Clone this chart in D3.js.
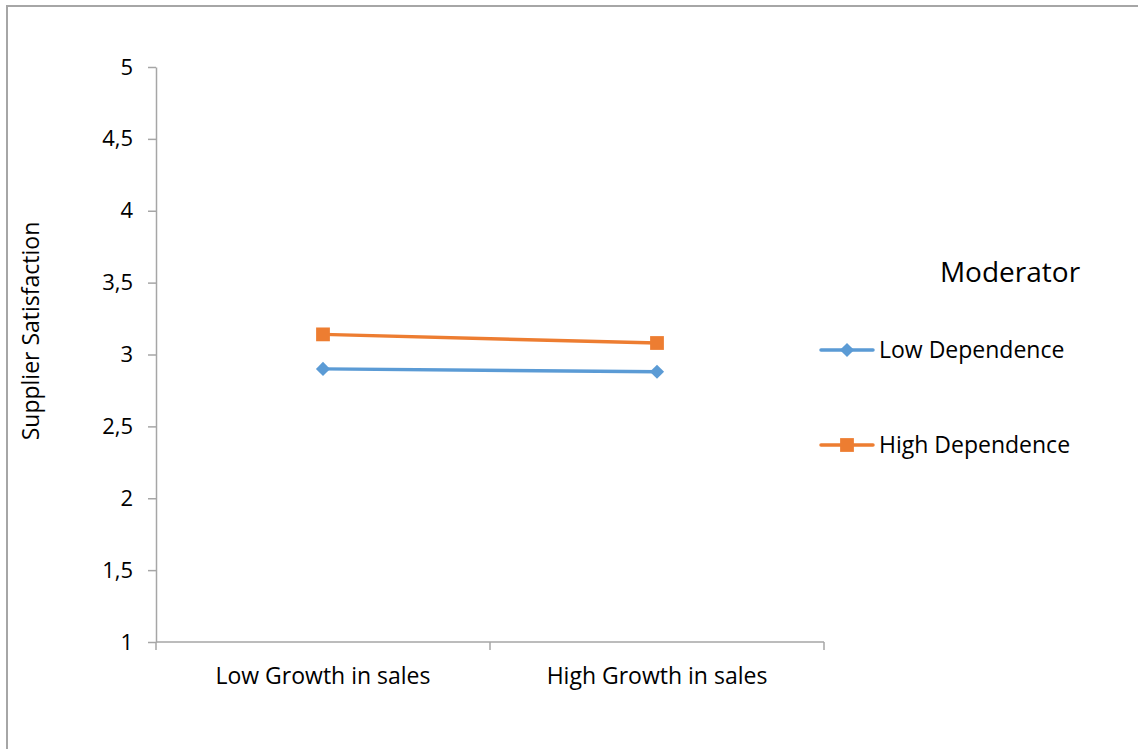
<!DOCTYPE html>
<html>
<head>
<meta charset="utf-8">
<script src="https://cdn.jsdelivr.net/npm/d3@7"></script>
<style>
  html, body { margin: 0; padding: 0; background: #fff; }
  svg { display: block; font-family: "Open Sans", "Noto Sans", sans-serif; }
</style>
</head>
<body>
<svg id="chart" width="1138" height="749"></svg>
<script>
// Interaction plot: supplier satisfaction by growth in sales, split by dependence
const categories = ["Low Growth in sales", "High Growth in sales"];
const lowDependence = [2.90, 2.88];
const highDependence = [3.14, 3.08];
const seriesNames = ["Low Dependence", "High Dependence"];
const seriesColors = ["#5b9bd5", "#ed7d31"];
const yTicks = [1, 1.5, 2, 2.5, 3, 3.5, 4, 4.5, 5];
const yTitle = "Supplier Satisfaction";
const legendTitle = "Moderator";

const svg = d3.select("#chart");
const W = 1138, H = 749;
const axisColor = "#a6a6a6";

// chart frame (runs off the right and bottom edges)
svg.append("rect")
  .attr("x", 7).attr("y", 6)
  .attr("width", W + 10).attr("height", H + 10)
  .attr("fill", "#fff").attr("stroke", "#a6a6a6").attr("stroke-width", 2);

const plot = { left: 156, right: 824, top: 67, bottom: 642 };

const x = d3.scaleBand().domain(categories).range([plot.left, plot.right]).padding(0);
const y = d3.scaleLinear().domain([1, 5]).range([plot.bottom, plot.top]);

// y axis
const yAxis = svg.append("g")
  .attr("transform", `translate(${plot.left},0)`)
  .call(d3.axisLeft(y).tickValues(yTicks).tickSize(8).tickSizeOuter(0).tickPadding(15)
    .tickFormat(d => String(d).replace(".", ",")));
yAxis.select(".domain").attr("stroke", axisColor).attr("stroke-width", 1.5);
yAxis.selectAll(".tick line").attr("stroke", axisColor).attr("stroke-width", 1.5);
yAxis.selectAll(".tick text").attr("fill", "#000").attr("font-size", 22)
  .attr("font-family", "Open Sans");

// x axis: line with ticks at category boundaries
const xg = svg.append("g");
xg.append("line")
  .attr("x1", plot.left).attr("x2", plot.right)
  .attr("y1", plot.bottom).attr("y2", plot.bottom)
  .attr("stroke", axisColor).attr("stroke-width", 1.5);
const bounds = categories.map(c => x(c)).concat([x(categories[categories.length - 1]) + x.bandwidth()]);
xg.selectAll("line.tick").data(bounds).join("line")
  .attr("class", "tick")
  .attr("x1", d => d).attr("x2", d => d)
  .attr("y1", plot.bottom).attr("y2", plot.bottom + 8)
  .attr("stroke", axisColor).attr("stroke-width", 1.5);
xg.selectAll("text").data(categories).join("text")
  .attr("x", d => x(d) + x.bandwidth() / 2)
  .attr("y", 684)
  .attr("text-anchor", "middle")
  .attr("font-size", 23)
  .text(d => d);

// y axis title
svg.append("text")
  .attr("transform", `translate(39,331) rotate(-90)`)
  .attr("text-anchor", "middle")
  .attr("font-size", 23)
  .text(yTitle);

const cx = d => x(d) + x.bandwidth() / 2;
const series = [lowDependence, highDependence];
const line = d3.line().x((d, i) => cx(categories[i])).y(d => y(d));

const square = d3.symbol().type(d3.symbolSquare).size(190);
const shapes = [
  g => g.append("path").attr("d", d3.symbol().type(d3.symbolSquare).size(100)()).attr("transform", "rotate(45)"),
  g => g.append("path").attr("d", square())
];

series.forEach((vals, s) => {
  svg.append("path")
    .datum(vals)
    .attr("d", line)
    .attr("fill", "none")
    .attr("stroke", seriesColors[s])
    .attr("stroke-width", 3.5)
    .attr("stroke-linecap", "round");
  vals.forEach((v, i) => {
    const g = svg.append("g")
      .attr("transform", `translate(${cx(categories[i])},${y(v)})`)
      .attr("fill", seriesColors[s]);
    shapes[s](g);
  });
});

// legend
svg.append("text")
  .attr("x", 1010).attr("y", 282)
  .attr("text-anchor", "middle")
  .attr("font-size", 28)
  .text(legendTitle);

const legendY = [350, 445];
seriesNames.forEach((name, s) => {
  const g = svg.append("g").attr("transform", `translate(0,${legendY[s]})`);
  g.append("line")
    .attr("x1", 821).attr("x2", 873).attr("y1", 0).attr("y2", 0)
    .attr("stroke", seriesColors[s]).attr("stroke-width", 3.5)
    .attr("stroke-linecap", "round");
  const m = g.append("g").attr("transform", "translate(847,0)").attr("fill", seriesColors[s]);
  shapes[s](m);
  g.append("text")
    .attr("x", 879).attr("y", 8)
    .attr("font-size", 23)
    .text(name);
});
</script>
</body>
</html>
